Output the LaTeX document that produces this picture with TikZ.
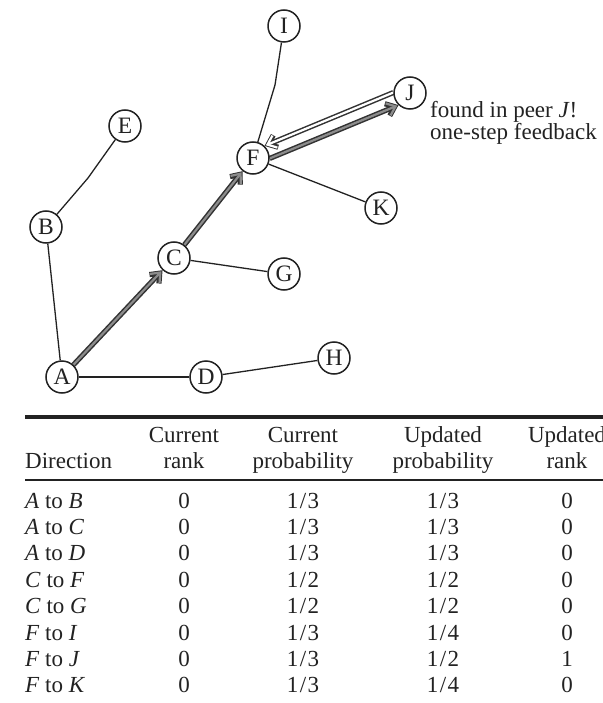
\documentclass[tikz,border=0pt]{standalone}
\usepackage{fontspec}
\setmainfont{Liberation Serif}
\usetikzlibrary{arrows.meta,calc,backgrounds}
\definecolor{ink}{HTML}{222222}
\definecolor{rimdark}{HTML}{333333}
\definecolor{coregray}{HTML}{8C8C8C}
\newcommand\frc[1]{1\kern1.5pt/\kern1.5pt#1}
\begin{document}
\begin{tikzpicture}[x=1pt,y=-1pt,
  txt/.style={font=\fontsize{23pt}{26pt}\selectfont, text=ink, inner sep=0pt},
  peer/.style={circle, draw=ink, line width=1.5pt, fill=white, minimum size=32pt,
    inner sep=0pt, font=\fontsize{23.5pt}{26pt}\selectfont, text=ink},
  link/.style={draw=ink, line width=1.3pt, line join=round},
  tipshape/.style={-{Straight Barb[length=8pt,width=13pt]}},
  rimline/.style={draw=rimdark, line width=5.2pt, tipshape},
  grayline/.style={draw=coregray, line width=2.2pt, tipshape, shorten >=1.5pt},
  whiteline/.style={draw=white, line width=2.2pt, tipshape, shorten >=1.5pt},
]
\useasboundingbox (0,0) rectangle (602,703);

% peers
\node[peer] (A) at (62,377) {A};
\node[peer] (B) at (46,227) {B};
\node[peer] (C) at (174,258) {C};
\node[peer] (D) at (206,377) {D};
\node[peer] (E) at (125,126) {E};
\node[peer] (F) at (253,158) {F};
\node[peer] (G) at (284,274) {G};
\node[peer] (H) at (334,358) {H};
\node[peer] (I) at (284,26) {I};
\node[peer] (J) at (410,93) {J};
\node[peer] (K) at (381,208) {K};

\coordinate (ebend) at (88,178);
\coordinate (ibend) at (275,85);

\begin{scope}[on background layer]
  % overlay links
  \draw[link] (E) -- (ebend) -- (B);
  \draw[link] (B) -- (A);
  \draw[link] (A) -- (D);
  \draw[link] (D) -- (H);
  \draw[link] (C) -- (G);
  \draw[link] (I) -- (ibend) -- (F);
  \draw[link] (F) -- (K);
  % query path A -> C -> F -> J
  \draw[rimline] (A) -- (C);
  \draw[grayline] (A) -- (C);
  \draw[rimline] (C) -- (F);
  \draw[grayline] (C) -- (F);
  \draw[rimline] ($(F)!16.7pt!-24:(J)$) -- ($(J)!16.7pt!24:(F)$);
  \draw[grayline] ($(F)!16.7pt!-24:(J)$) -- ($(J)!16.7pt!24:(F)$);
  % feedback J -> F
  \draw[rimline] ($(J)!16.7pt!-24:(F)$) -- ($(F)!16.7pt!24:(J)$);
  \draw[whiteline] ($(J)!16.7pt!-24:(F)$) -- ($(F)!16.7pt!24:(J)$);
\end{scope}

\node[txt, anchor=base west] (note1) at (430,118) {found in peer \textit{J}!};
\node[txt, anchor=base west] (note2) at (430,140) {one-step feedback};

% table
\draw[ink, line width=3.8pt] (25,417) -- (640,417);
\draw[ink, line width=1.6pt] (25,480) -- (640,480);

\node[txt, anchor=base west] (hdir) at (25,468) {Direction};
\node[txt, anchor=base] (hcra) at (184,442) {Current};
\node[txt, anchor=base] (hcrb) at (184,468) {rank};
\node[txt, anchor=base] (hcpa) at (303,442) {Current};
\node[txt, anchor=base] (hcpb) at (303,468) {probability};
\node[txt, anchor=base] (hupa) at (443,442) {Updated};
\node[txt, anchor=base] (hupb) at (443,468) {probability};
\node[txt, anchor=base] (hura) at (567,442) {Updated};
\node[txt, anchor=base] (hurb) at (567,468) {rank};

\foreach \k/\p/\q/\cr/\cp/\upb/\ur in {0/A/B/0/3/3/0, 1/A/C/0/3/3/0, 2/A/D/0/3/3/0,
    3/C/F/0/2/2/0, 4/C/G/0/2/2/0, 5/F/I/0/3/4/0, 6/F/J/0/3/2/1, 7/F/K/0/3/4/0} {
  \pgfmathsetmacro\yy{508+26.4*\k}
  \node[txt, anchor=base west] (dir\k) at (25,\yy) {\textit{\p} to \textit{\q}};
  \node[txt, anchor=base] (cr\k) at (184,\yy) {\cr};
  \node[txt, anchor=base] (cp\k) at (303,\yy) {\frc{\cp}};
  \node[txt, anchor=base] (up\k) at (443,\yy) {\frc{\upb}};
  \node[txt, anchor=base] (ur\k) at (567,\yy) {\ur};
}
\end{tikzpicture}
\end{document}
